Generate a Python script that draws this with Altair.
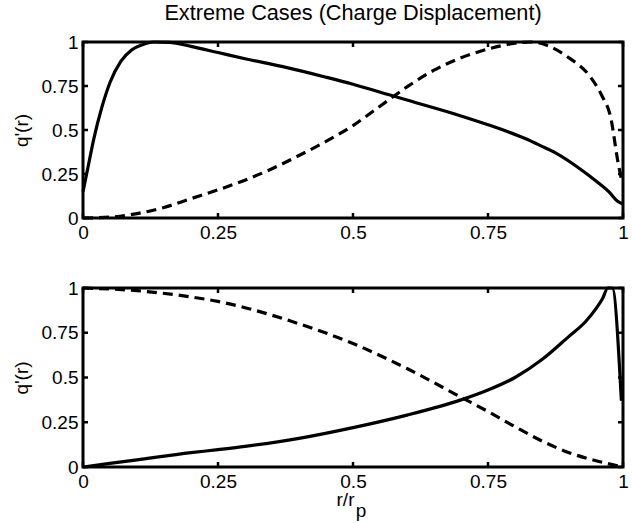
import altair as alt
import pandas as pd

# ---------------- data ----------------
tick_values = [0, 0.25, 0.5, 0.75, 1]

top_solid_x = [0.0, 0.01, 0.02, 0.035, 0.05, 0.07, 0.09, 0.11, 0.13, 0.16, 0.2, 0.25, 0.3, 0.37,
               0.45, 0.5, 0.567, 0.6, 0.7, 0.75, 0.82, 0.848, 0.875, 0.92, 0.95, 0.975, 0.99, 1.0]
top_solid_y = [0.15, 0.30, 0.45, 0.63, 0.77, 0.89, 0.955, 0.985, 1.0, 0.998, 0.975, 0.94, 0.905, 0.86,
               0.80, 0.76, 0.70, 0.67, 0.58, 0.53, 0.45, 0.41, 0.37, 0.28, 0.21, 0.145, 0.095, 0.08]

top_dash_x = [0.0, 0.05, 0.1, 0.15, 0.2, 0.25, 0.3, 0.35, 0.4, 0.45, 0.5, 0.55, 0.6, 0.65,
              0.7, 0.75, 0.8, 0.83, 0.86, 0.9, 0.94, 0.96, 0.978, 0.99, 0.997]
top_dash_y = [0.0, 0.005, 0.025, 0.06, 0.11, 0.16, 0.215, 0.28, 0.355, 0.435, 0.525, 0.635, 0.745, 0.84,
              0.91, 0.96, 0.993, 1.0, 0.98, 0.91, 0.80, 0.70, 0.56, 0.33, 0.22]

bot_solid_x = [0.0, 0.1, 0.2, 0.25, 0.3, 0.4, 0.5, 0.6, 0.7, 0.75, 0.8, 0.85, 0.9, 0.93, 0.95,
               0.962, 0.972, 0.98, 0.997]
bot_solid_y = [0.0, 0.04, 0.08, 0.097, 0.115, 0.16, 0.22, 0.29, 0.375, 0.43, 0.50, 0.60, 0.73, 0.81, 0.885,
               0.94, 1.0, 1.0, 0.37]

bot_dash_x = [0.0, 0.1, 0.2, 0.25, 0.3, 0.4, 0.5, 0.6, 0.7, 0.75, 0.8, 0.85, 0.9, 0.95, 1.0]
bot_dash_y = [1.0, 0.985, 0.95, 0.925, 0.89, 0.80, 0.69, 0.55, 0.39, 0.31, 0.225, 0.145, 0.08, 0.035, 0.0]

TITLE = "Extreme Cases (Charge Displacement)"
YTITLE = "q'(r)"
XTITLE = "r/r"
XSUB = "p"

FONT = "Liberation Sans"
W = 540
H_TOP = 176
H_BOT = 179
LABEL_EXPR = "'' + datum.value"


def panel(sx, sy, dx, dy, height, bottom):
    xs = alt.Scale(domain=[0, 1], nice=False, zero=False)
    ys = alt.Scale(domain=[0, 1], nice=False, zero=False)
    xaxis_kw = dict(values=tick_values, labelExpr=LABEL_EXPR, ticks=False, domain=False, grid=False,
                    labelFont=FONT, labelFontSize=19, labelColor="black", labelPadding=5,
                    labelFlush=False)
    if bottom:
        xaxis = alt.Axis(title=XTITLE, titleFont=FONT, titleFontSize=19, titleFontWeight="normal",
                         titleColor="black", titleX=262, titleY=38, titleBaseline="alphabetic",
                         titleAlign="center", **xaxis_kw)
    else:
        xaxis = alt.Axis(title=None, **xaxis_kw)
    yaxis = alt.Axis(values=tick_values, labelExpr=LABEL_EXPR, ticks=False, domain=False, grid=False,
                     labelFont=FONT, labelFontSize=19, labelColor="black", labelPadding=5,
                     title=YTITLE, titleFont=FONT, titleFontSize=19, titleFontWeight="normal",
                     titleColor="black", titleAngle=270, titleX=-62, titleY=height / 2,
                     titleBaseline="middle", titleAlign="center")

    solid = alt.Chart(pd.DataFrame({"x": sx, "y": sy})).mark_line(
        color="black", strokeWidth=3.2, clip=False, interpolate="monotone"
    ).encode(x=alt.X("x:Q", scale=xs, axis=xaxis), y=alt.Y("y:Q", scale=ys, axis=yaxis))
    dashed = alt.Chart(pd.DataFrame({"x": dx, "y": dy})).mark_line(
        color="black", strokeWidth=3.2, strokeDash=[10, 6], clip=False, interpolate="monotone"
    ).encode(x=alt.X("x:Q", scale=xs, axis=xaxis), y=alt.Y("y:Q", scale=ys, axis=yaxis))

    tdf = pd.DataFrame({"x": tick_values, "y": tick_values})
    tb = alt.Chart(tdf).mark_rule(color="black", strokeWidth=2.5)
    t1 = tb.encode(x=alt.X("x:Q", scale=xs, axis=xaxis), y=alt.value(0), y2=alt.value(5))
    t2 = tb.encode(x=alt.X("x:Q", scale=xs, axis=xaxis), y=alt.value(height), y2=alt.value(height - 5))
    t3 = tb.encode(y=alt.Y("y:Q", scale=ys, axis=yaxis), x=alt.value(0), x2=alt.value(5))
    t4 = tb.encode(y=alt.Y("y:Q", scale=ys, axis=yaxis), x=alt.value(W), x2=alt.value(W - 5))

    layers = [solid, dashed, t1, t2, t3, t4]
    if bottom:
        sub = alt.Chart(pd.DataFrame({"s": [XSUB]})).mark_text(
            font=FONT, fontSize=19, color="black", baseline="alphabetic", align="center"
        ).encode(text="s:N", x=alt.value(278), y=alt.value(height + 50))
        layers.append(sub)
    ch = alt.layer(*layers).properties(width=W, height=height)
    if not bottom:
        ch = ch.properties(title=alt.TitleParams(TITLE, font=FONT, fontSize=21.7, fontWeight="normal",
                                                 color="black", anchor="middle", frame="group",
                                                 offset=8))
    return ch


top = panel(top_solid_x, top_solid_y, top_dash_x, top_dash_y, H_TOP, False)
bot = panel(bot_solid_x, bot_solid_y, bot_dash_x, bot_dash_y, H_BOT, True)

chart = alt.vconcat(top, bot, spacing=33).properties(
    padding={"left": 10, "top": 1, "right": 0, "bottom": 0},
    background="white",
).configure_view(stroke="black", strokeWidth=3)

chart.save("out.html", embed_options={"renderer": "svg", "actions": False})
